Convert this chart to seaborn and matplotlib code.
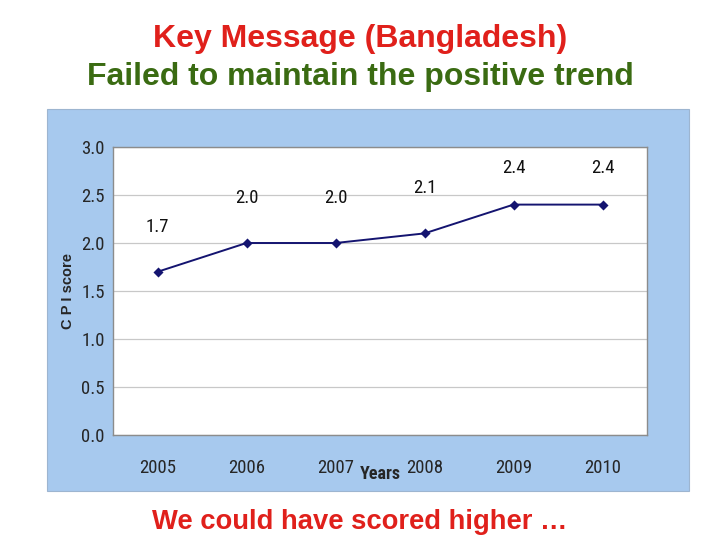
import numpy as np
import pandas as pd
import seaborn as sns
import matplotlib.pyplot as plt
from matplotlib.patches import Rectangle

# data
years = ["2005", "2006", "2007", "2008", "2009", "2010"]
cpi_scores = [1.7, 2.0, 2.0, 2.1, 2.4, 2.4]
y_ticks = [0.0, 0.5, 1.0, 1.5, 2.0, 2.5, 3.0]

df = pd.DataFrame({"year": years, "score": cpi_scores})

sns.set_theme(style="white")
plt.rcParams["font.family"] = ["Liberation Sans", "DejaVu Sans"]
NARROW = ["Roboto Condensed", "Liberation Sans Narrow", "Liberation Sans", "DejaVu Sans"]

fig = plt.figure(figsize=(7.2, 5.4), dpi=100)
fig.patch.set_facecolor("white")

# blue background panel behind the chart
fig.patches.append(Rectangle((47 / 720, 1 - 491 / 540), 642 / 720, 382 / 540,
                             transform=fig.transFigure, facecolor="#A7C9EE",
                             edgecolor="#9DB5D0", linewidth=0.8, zorder=0))

ax = fig.add_axes([113 / 720, 1 - 435 / 540, 534 / 720, 288 / 540])
ax.set_zorder(2)
ax.set_facecolor("white")

sns.pointplot(data=df, x="year", y="score", color="#141470", markers="D",
              linestyles="-", markersize=4.5, linewidth=1.4, ax=ax)

# value labels float above the points, kept inside the plot area
for i, v in enumerate(df["score"]):
    ax.text(i, min(v + 0.47, 2.78), f"{v:.1f}", ha="center", va="center",
            fontsize=13.5, family=NARROW, color="#111111")

ax.set_xlim(-0.5, len(years) - 0.5)
ax.set_ylim(0, 3.0)
ax.set_yticks(y_ticks)
ax.set_yticklabels([f"{t:.1f}" for t in y_ticks], family=NARROW, fontsize=13.5)
ax.yaxis.grid(True, color="#C8C8C8", linewidth=0.9)
ax.set_axisbelow(True)

ax.set_xticks(range(len(years)))
ax.set_xticklabels(years, family=NARROW, fontsize=13.5)
ax.set_xticks(np.arange(-0.5, len(years)), minor=True)
ax.tick_params(axis="x", which="major", length=0, pad=17)
ax.tick_params(axis="x", which="minor", length=5, color="#888888", direction="out")
ax.tick_params(axis="y", length=0, pad=6)

for s in ax.spines.values():
    s.set_color("#8C8C8C")
    s.set_linewidth(1.0)

ax.set_xlabel("Years", family=NARROW, fontsize=13, fontweight="bold")
ax.xaxis.set_label_coords(0.5, -(465 - 435) / 288)
ax.set_ylabel("C P I score", fontsize=10.5, fontweight="bold")
ax.yaxis.set_label_coords(-38 / 534, 0.5)

fig.text(0.5, 1 - 39 / 540, "Key Message (Bangladesh)", ha="center", va="center",
         fontsize=23, fontweight="bold", color="#E0201B")
fig.text(0.5, 1 - 77 / 540, "Failed to maintain the positive trend", ha="center",
         va="center", fontsize=23, fontweight="bold", color="#3A6B12")
fig.text(0.5, 1 - 522 / 540, "We could have scored higher \u2026", ha="center",
         va="center", fontsize=19.7, fontweight="bold", color="#E0201B")

fig.savefig("out.png", dpi=100)
